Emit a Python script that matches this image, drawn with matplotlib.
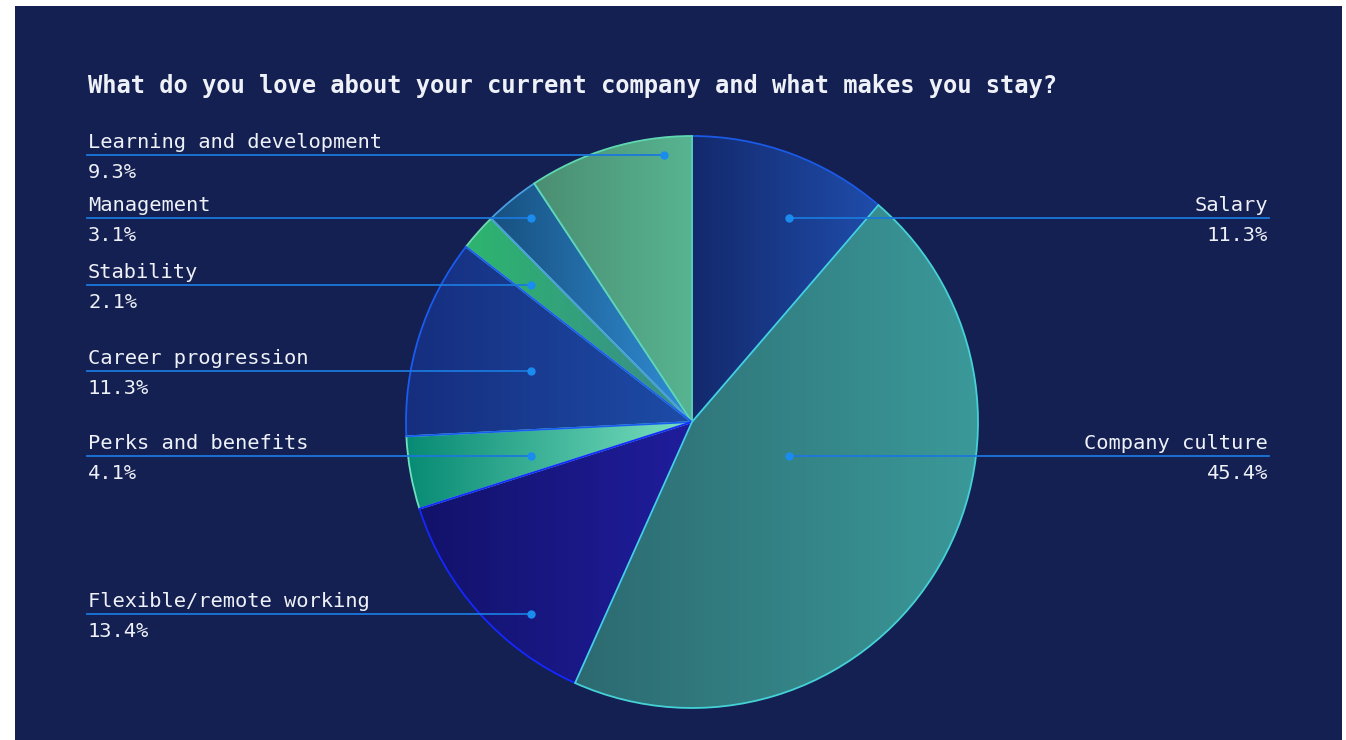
import numpy as np
import matplotlib.pyplot as plt
from matplotlib.colors import LinearSegmentedColormap
from matplotlib.patches import Rectangle

# Survey answers, clockwise from 12 o'clock
categories = ["Salary", "Company culture", "Flexible/remote working", "Perks and benefits",
              "Career progression", "Stability", "Management", "Learning and development"]
shares = [11.3, 45.4, 13.4, 4.1, 11.3, 2.1, 3.1, 9.3]

# left -> right gradient stops and outline colour for each slice
grad_left = ["#13296c", "#2c6a70", "#12126a", "#078a74", "#162e7e", "#2db56e", "#17507f", "#4b8e72"]
grad_right = ["#1f4dab", "#3b9999", "#201d9c", "#7ae0c0", "#1d4ca8", "#3a8a8c", "#318ed6", "#57b491"]
edges = ["#1a5ae6", "#45d2d6", "#1428ff", "#6fe0c0", "#1a5cf0", "#6fd8b0", "#4a9ee0", "#5ed8b0"]
edge_order = [3, 6, 4, 3, 3.5, 3, 3, 3.2]

# label layout in pixels: (dot x, line y, side)
label_layout = [(789, 218, "right"), (789, 456, "right"), (531, 614, "left"), (531, 456, "left"),
                (531, 371, "left"), (531, 285, "left"), (531, 218, "left"), (664, 155, "left")]

W, H = 1346, 740
BG = "#141f52"
LINE = "#1b78dc"
TXT = "#eef1f7"
FONT = "DejaVu Sans Mono"

fig = plt.figure(figsize=(W / 100, H / 100), dpi=100, facecolor="white")
ax = fig.add_axes([0, 0, 1, 1])

cx, cy, r = 692, H - 422, 286
wedges, _ = ax.pie(shares, startangle=90, counterclock=False, center=(cx, cy), radius=r,
                   wedgeprops=dict(linewidth=1.3), frame=True)
ax.set_aspect("auto")
ax.axis("off")

ax.add_patch(Rectangle((15, 0), 1327, H - 6, facecolor=BG, edgecolor="none", zorder=0))

grad = np.linspace(0, 1, 256).reshape(1, -1)
for i, w in enumerate(wedges):
    w.set_facecolor("none")
    w.set_edgecolor(edges[i])
    w.set_zorder(edge_order[i])
    bb = w.get_path().get_extents()
    cmap = LinearSegmentedColormap.from_list(f"g{i}", [grad_left[i], grad_right[i]])
    im = ax.imshow(grad, cmap=cmap, extent=(bb.x0, bb.x1, bb.y0, bb.y1),
                   aspect="auto", interpolation="bilinear", zorder=2)
    im.set_clip_path(w)
# imshow resets limits
ax.set_xlim(0, W)
ax.set_ylim(0, H)

for name, val, (dx, ly, side) in zip(categories, shares, label_layout):
    y = H - ly
    if side == "left":
        ax.plot([87, dx], [y, y], color=LINE, lw=1.3, zorder=7)
        tx, ha = 88, "left"
    else:
        ax.plot([dx, 1269], [y, y], color=LINE, lw=1.3, zorder=7)
        tx, ha = 1268, "right"
    ax.plot(dx, y, "o", color="#1a8cf0", ms=5, zorder=8)
    ax.text(tx, y + 7, name, ha=ha, va="baseline", color=TXT, fontsize=14.7, family=FONT, zorder=9)
    ax.text(tx, y - 23, f"{val}%", ha=ha, va="baseline", color=TXT, fontsize=14.7, family=FONT, zorder=9)

ax.text(88, H - 93, "What do you love about your current company and what makes you stay?",
        ha="left", va="baseline", color=TXT, fontsize=17.1, fontweight="bold", family=FONT, zorder=9)

fig.savefig("out.png", dpi=100, facecolor="white")
